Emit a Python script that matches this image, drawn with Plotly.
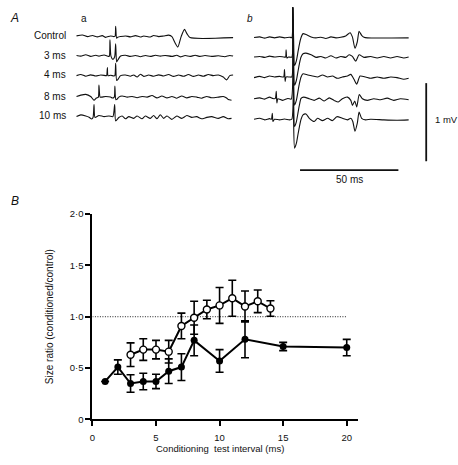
import plotly.graph_objects as go

# ---------------- Panel B data ----------------
interval_filled = [1, 2, 3, 4, 5, 6, 7, 8, 10, 12, 15, 20]
ratio_filled = [0.37, 0.51, 0.35, 0.37, 0.37, 0.47, 0.51, 0.77, 0.57, 0.78, 0.71, 0.70]
sem_filled = [0.0, 0.07, 0.085, 0.08, 0.07, 0.12, 0.13, 0.15, 0.11, 0.18, 0.04, 0.08]

interval_open = [3, 4, 5, 6, 7, 8, 9, 10, 11, 12, 13, 14]
ratio_open = [0.63, 0.68, 0.68, 0.66, 0.91, 0.99, 1.07, 1.11, 1.18, 1.10, 1.15, 1.08]
sem_open = [0.115, 0.105, 0.09, 0.11, 0.125, 0.16, 0.09, 0.175, 0.175, 0.15, 0.11, 0.075]

reference_level = [1.0, 1.0]
reference_x = [0, 20]

x_ticks = [0, 5, 10, 15, 20]
x_ticklabels = ["0", "5", "10", "15", "20"]
y_ticks = [0, 0.5, 1.0, 1.5, 2.0]
y_ticklabels = ["0", "0·5", "1·0", "1·5", "2·0"]

# ---------------- Panel A data (time ms, voltage mV) ----------------
row_labels = ["Control", "3 ms", "4 ms", "8 ms", "10 ms"]

a_control_t = [0, 3.0, 5.6, 8.1, 10.6, 13.1, 14.8, 17.3, 19.0, 19.6, 19.9, 20.4, 21.0, 22.4, 24.9, 27.4, 30.0, 32.5, 34.2, 37.5, 39.2, 41.8, 44.3, 46.8, 48.5, 50.0, 51.5, 53.2, 54.9, 56.2, 57.7, 79.6]
a_control_v = [0.005, 0.017, -0.004, 0.010, -0.008, 0.008, -0.014, 0.004, -0.004, 0.0, 0.129, -0.025, -0.012, -0.004, 0.004, -0.008, 0.008, -0.010, 0.004, -0.010, 0.010, -0.004, 0.004, 0.014, -0.004, -0.080, -0.138, -0.004, 0.088, 0.030, -0.017, -0.017]

a_3ms_t = [0, 2.2, 4.7, 7.2, 9.8, 11.4, 14.0, 16.2, 16.7, 17.0, 17.5, 18.5, 19.4, 19.9, 20.4, 21.0, 22.4, 24.9, 27.4, 30.0, 32.5, 35.0, 37.5, 40.1, 42.6, 45.1, 48.5, 51.0, 52.7, 55.2, 57.7, 60.3, 62.8, 65.3, 68.7, 72.1, 75.4, 77.9, 79.6]
a_3ms_v = [0.008, 0.0, 0.018, -0.004, 0.010, 0.0, 0.014, -0.004, 0.0, 0.208, 0.0, -0.042, -0.008, 0.158, -0.075, -0.050, 0.0, 0.010, -0.004, 0.008, -0.008, 0.008, -0.004, 0.010, 0.0, 0.008, -0.004, 0.010, -0.010, 0.008, -0.004, 0.010, -0.004, 0.008, -0.004, 0.004, -0.008, 0.008, 0.0]

a_4ms_t = [0, 2.2, 4.7, 7.2, 9.8, 12.3, 14.8, 15.3, 15.7, 16.0, 17.3, 19.0, 19.5, 19.9, 20.4, 21.0, 22.4, 24.9, 27.4, 29.1, 30.8, 32.5, 34.2, 36.7, 39.2, 41.8, 44.3, 46.8, 49.3, 51.9, 54.4, 56.9, 59.4, 62.0, 64.5, 67.0, 69.5, 72.1, 74.6, 76.3, 77.9, 79.6]
a_4ms_v = [0.0, 0.014, -0.008, 0.010, -0.004, 0.008, 0.0, 0.0, 0.104, 0.0, 0.004, -0.004, 0.0, 0.158, -0.062, -0.050, 0.0, 0.008, -0.008, 0.008, -0.018, 0.018, -0.010, 0.008, -0.008, 0.010, -0.004, 0.014, -0.010, 0.008, -0.008, 0.014, -0.010, 0.008, -0.008, 0.014, 0.0, 0.008, -0.018, -0.055, 0.0, 0.008]

a_8ms_t = [0, 2.2, 4.7, 7.2, 8.9, 10.1, 11.1, 11.4, 12.0, 12.8, 14.8, 17.3, 18.2, 19.2, 19.5, 20.0, 20.7, 21.5, 23.2, 25.8, 28.3, 30.8, 33.3, 35.9, 38.4, 40.9, 43.4, 46.0, 48.5, 51.0, 53.5, 56.1, 58.6, 61.1, 63.6, 66.2, 68.7, 72.1, 74.6, 76.3, 77.1, 78.8]
a_8ms_v = [0.008, 0.025, 0.035, 0.008, -0.040, -0.012, 0.0, 0.154, 0.0, 0.0, 0.008, 0.0, -0.012, 0.0, 0.142, -0.033, -0.025, 0.0, 0.014, 0.0, 0.008, -0.008, 0.008, 0.0, 0.020, -0.010, 0.014, -0.010, 0.008, -0.014, 0.014, -0.010, 0.008, 0.0, -0.014, 0.008, -0.008, 0.0, 0.008, -0.012, -0.030, -0.040]

a_10ms_t = [0, 2.2, 4.7, 6.4, 7.7, 8.4, 8.9, 9.4, 11.4, 14.0, 16.5, 18.5, 19.4, 19.9, 21.5, 23.2, 24.9, 26.6, 29.1, 30.8, 33.3, 35.0, 37.5, 39.2, 40.9, 42.6, 44.3, 46.0, 48.5, 51.0, 53.5, 56.1, 58.6, 61.1, 63.6, 66.2, 68.7, 72.1, 74.6, 77.1, 78.8]
a_10ms_v = [0.0, 0.022, 0.008, -0.008, -0.030, -0.012, 0.154, -0.012, 0.015, 0.0, 0.008, 0.0, 0.154, -0.054, -0.012, 0.008, -0.028, 0.0, -0.022, 0.008, -0.028, 0.008, -0.022, 0.014, -0.028, 0.024, -0.022, 0.008, -0.035, 0.008, -0.022, 0.014, -0.010, 0.0, -0.028, -0.010, 0.0, -0.022, 0.0, -0.028, -0.022]

b_control_t = [0, 2.9, 5.4, 7.9, 10.4, 13.0, 15.5, 18.0, 19.2, 19.7, 20.1, 20.6, 21.5, 22.3, 23.1, 23.9, 24.9, 26.4, 29.0, 31.5, 34.0, 36.5, 39.1, 41.6, 44.1, 46.6, 48.8, 50.0, 51.3, 52.5, 53.4, 54.7, 55.9, 57.6, 78.6]
b_control_v = [0.0, 0.008, -0.008, 0.008, -0.004, 0.008, -0.004, 0.004, 0.0, 0.38, 0.0, -0.36, -0.30, -0.19, -0.08, 0.0, 0.050, 0.038, 0.008, -0.004, 0.004, -0.012, 0.008, -0.004, 0.004, 0.021, 0.062, 0.008, -0.138, -0.054, 0.079, 0.029, 0.004, -0.004, -0.004]

b_3ms_t = [0, 2.9, 5.4, 7.9, 10.4, 13.0, 15.2, 16.0, 16.3, 16.7, 17.5, 19.2, 19.7, 20.1, 20.6, 21.5, 22.3, 23.1, 23.9, 24.9, 26.4, 29.0, 31.5, 34.0, 36.5, 39.1, 41.6, 44.1, 46.6, 48.3, 50.0, 51.7, 53.4, 55.9, 59.3, 62.6, 66.0, 69.4, 72.7, 76.1, 78.6]
b_3ms_v = [0.0, 0.008, -0.004, 0.012, 0.0, 0.008, 0.0, 0.0, 0.092, -0.012, 0.0, 0.0, 0.63, 0.0, -0.36, -0.30, -0.19, -0.08, 0.0, 0.042, 0.050, 0.029, -0.004, 0.008, -0.012, 0.017, -0.012, 0.008, -0.004, 0.029, 0.008, -0.054, 0.029, -0.004, 0.008, -0.012, 0.008, -0.012, 0.008, -0.012, 0.0]

b_4ms_t = [0, 2.9, 5.4, 7.9, 10.4, 13.0, 15.0, 15.5, 15.8, 16.3, 18.0, 19.2, 19.7, 20.1, 20.6, 21.5, 22.3, 23.1, 23.9, 24.9, 27.3, 29.8, 32.3, 34.8, 37.4, 39.9, 42.4, 44.9, 47.5, 49.2, 50.8, 52.2, 53.9, 56.7, 59.3, 62.6, 66.0, 69.4, 72.7, 76.1, 78.6]
b_4ms_v = [-0.008, 0.008, -0.008, 0.012, 0.0, 0.008, 0.0, 0.096, -0.058, 0.0, 0.0, 0.0, 0.89, 0.0, -0.36, -0.30, -0.19, -0.08, 0.0, 0.042, 0.025, 0.012, 0.0, 0.025, 0.0, 0.012, -0.017, 0.0, 0.012, 0.033, -0.029, -0.092, 0.012, 0.0, -0.017, 0.0, -0.017, 0.0, -0.008, -0.029, -0.017]

b_8ms_t = [0, 2.9, 5.4, 7.9, 9.6, 10.8, 11.3, 11.6, 12.1, 14.6, 17.2, 18.9, 19.7, 20.1, 20.6, 21.5, 22.3, 23.1, 23.9, 25.2, 28.1, 30.6, 33.2, 35.7, 38.2, 40.7, 42.8, 44.9, 47.5, 49.2, 50.0, 51.2, 52.2, 53.5, 55.1, 57.6, 60.9, 64.3, 67.7, 71.0, 74.4, 78.6]
b_8ms_v = [-0.004, 0.008, -0.008, 0.017, 0.0, 0.0, 0.092, -0.058, -0.004, -0.025, 0.0, -0.008, 1.16, 0.0, -0.36, -0.30, -0.19, -0.08, 0.0, 0.017, -0.004, -0.025, 0.004, -0.033, 0.008, -0.025, -0.046, -0.004, 0.017, -0.025, -0.088, -0.033, -0.108, 0.050, -0.004, -0.025, -0.004, -0.017, 0.004, -0.025, -0.004, -0.017]

b_10ms_t = [0, 2.9, 5.4, 7.9, 8.8, 9.3, 9.6, 10.4, 13.0, 15.5, 18.0, 19.2, 19.7, 20.1, 20.6, 21.5, 22.3, 23.1, 23.9, 24.9, 26.4, 28.1, 30.6, 32.3, 34.8, 37.4, 39.9, 42.1, 44.9, 47.5, 49.2, 50.2, 51.3, 52.5, 53.4, 54.7, 56.7, 59.3, 66.0, 72.7, 78.6]
b_10ms_v = [0.0, 0.012, -0.008, 0.008, 0.0, 0.075, -0.029, 0.0, -0.008, 0.004, -0.008, 0.0, 1.43, 0.0, -0.37, -0.31, -0.20, -0.09, 0.0, 0.055, 0.067, 0.012, -0.029, 0.012, -0.017, 0.012, -0.017, 0.033, 0.012, -0.008, 0.012, -0.029, -0.154, -0.050, 0.092, 0.012, -0.008, 0.0, -0.008, -0.012, -0.008]

scale_time_ms = 50
scale_volt_mv = 1

# ---------------- Layout helpers ----------------
W, H = 458, 465
PXMS = 1.98      # px per ms in panel A
PXMV = 80.0      # px per mV in panel A
A_T0_PX = 74.0   # left start of trace column a
B_OFFSET = (252.7 - A_T0_PX) / PXMS  # ms offset of column b

def px(x):
    return x / W

def py(y):
    return 1 - y / H

FONT = "Arial, Liberation Sans, Helvetica, sans-serif"

fig = go.Figure()

a_traces = [(a_control_t, a_control_v), (a_3ms_t, a_3ms_v), (a_4ms_t, a_4ms_v),
            (a_8ms_t, a_8ms_v), (a_10ms_t, a_10ms_v)]
b_traces = [(b_control_t, b_control_v), (b_3ms_t, b_3ms_v), (b_4ms_t, b_4ms_v),
            (b_8ms_t, b_8ms_v), (b_10ms_t, b_10ms_v)]
a_rows_px = [31.0, 51.3, 71.3, 93.3, 113.3]
b_rows_px = [32.3, 52.3, 72.7, 94.7, 116.0]

TRACE_LINE = dict(color="#111", width=1.1, shape="spline", smoothing=0.6)

for (t, v), rp in zip(a_traces, a_rows_px):
    off = -rp / PXMV
    fig.add_trace(go.Scatter(x=t, y=[vv + off for vv in v], mode="lines",
                             line=TRACE_LINE, xaxis="x2", yaxis="y2",
                             showlegend=False, hoverinfo="skip"))
for (t, v), rp in zip(b_traces, b_rows_px):
    off = -rp / PXMV
    fig.add_trace(go.Scatter(x=[tt + B_OFFSET for tt in t], y=[vv + off for vv in v],
                             mode="lines", line=TRACE_LINE, xaxis="x2", yaxis="y2",
                             showlegend=False, hoverinfo="skip"))

# scale bars
bar_v_x = (426 - A_T0_PX) / PXMS
bar_v_top = -79 / PXMV
fig.add_trace(go.Scatter(x=[bar_v_x, bar_v_x], y=[bar_v_top, bar_v_top - scale_volt_mv], mode="lines",
                         line=dict(color="#111", width=1.8), xaxis="x2", yaxis="y2",
                         showlegend=False, hoverinfo="skip"))
bar_h_x0 = (299 - A_T0_PX) / PXMS
bar_h_y = -168 / PXMV
fig.add_trace(go.Scatter(x=[bar_h_x0, bar_h_x0 + scale_time_ms], y=[bar_h_y, bar_h_y], mode="lines",
                         line=dict(color="#111", width=1.8), xaxis="x2", yaxis="y2",
                         showlegend=False, hoverinfo="skip"))

# ---- panel B ----
fig.add_trace(go.Scatter(x=reference_x, y=reference_level, mode="lines",
                         line=dict(color="#222", width=1.0, dash="1px,1.5px"),
                         showlegend=False, hoverinfo="skip"))
fig.add_trace(go.Scatter(x=interval_filled, y=ratio_filled, mode="lines+markers",
                         line=dict(color="black", width=2),
                         marker=dict(size=7, color="black", symbol="circle"),
                         error_y=dict(type="data", array=sem_filled, visible=True,
                                      color="black", thickness=1.6, width=4),
                         cliponaxis=False, showlegend=False))
fig.add_trace(go.Scatter(x=interval_open, y=ratio_open, mode="lines+markers",
                         line=dict(color="black", width=2),
                         marker=dict(size=7, color="white", symbol="circle",
                                     line=dict(color="black", width=1.4)),
                         error_y=dict(type="data", array=sem_open, visible=True,
                                      color="black", thickness=1.6, width=4),
                         cliponaxis=False, showlegend=False))

annotations = []
def txt(x, y, s, size=10, xanchor="center", italic=False, angle=0):
    annotations.append(dict(x=px(x), y=py(y), xref="paper", yref="paper", text=s,
                            showarrow=False, xanchor=xanchor, yanchor="middle",
                            textangle=angle,
                            font=dict(family=FONT, size=size, color="#111",
                                      style="italic" if italic else "normal")))

txt(5, 12, "A", size=12, xanchor="left", italic=True)
txt(6, 200, "B", size=12, xanchor="left", italic=True)
txt(77, 13, "a", size=10, xanchor="left")
txt(244, 13, "b", size=10, xanchor="left", italic=True)
for lab, rp in zip(row_labels, a_rows_px):
    txt(65, rp - 1, lab, size=10, xanchor="right")
txt(433, 116, "1 mV", size=9.5, xanchor="left")
txt(349, 178, "50 ms", size=10)
txt(47, 318, "Size ratio (conditioned/control)", size=10, angle=-90)
txt(218, 453, "Conditioning  test interval (ms)", size=9.5)

fig.update_layout(
    width=W, height=H, margin=dict(l=0, r=0, t=0, b=0),
    paper_bgcolor="white", plot_bgcolor="rgba(0,0,0,0)",
    font=dict(family=FONT, size=10, color="#111"),
    annotations=annotations,
    xaxis=dict(domain=[px(90), px(357)], range=[0, 267 / 12.8],
               tickvals=x_ticks, ticktext=x_ticklabels, ticks="outside", ticklen=5,
               tickwidth=1.5, tickcolor="black", showline=True, linecolor="black",
               linewidth=2, showgrid=False, zeroline=False, ticklabelstandoff=3,
               tickfont=dict(family=FONT, size=9.5, color="#111"), anchor="y"),
    yaxis=dict(domain=[py(423.5), py(213)], range=[0, 2.0],
               tickvals=y_ticks, ticktext=y_ticklabels, ticks="outside", ticklen=5,
               tickwidth=1.5, tickcolor="black", showline=True, linecolor="black",
               linewidth=2, showgrid=False, zeroline=False,
               tickfont=dict(family=FONT, size=9.5, color="#111"), anchor="x"),
    xaxis2=dict(domain=[0, 1], range=[-A_T0_PX / PXMS, (W - A_T0_PX) / PXMS],
                visible=False, anchor="y2", fixedrange=True),
    yaxis2=dict(domain=[0, 1], range=[-H / PXMV, 0], visible=False, anchor="x2",
                fixedrange=True),
)

fig.write_html("out.html", config={"displayModeBar": False},
               post_script="document.body.style.margin='0';document.body.style.overflow='hidden';")
